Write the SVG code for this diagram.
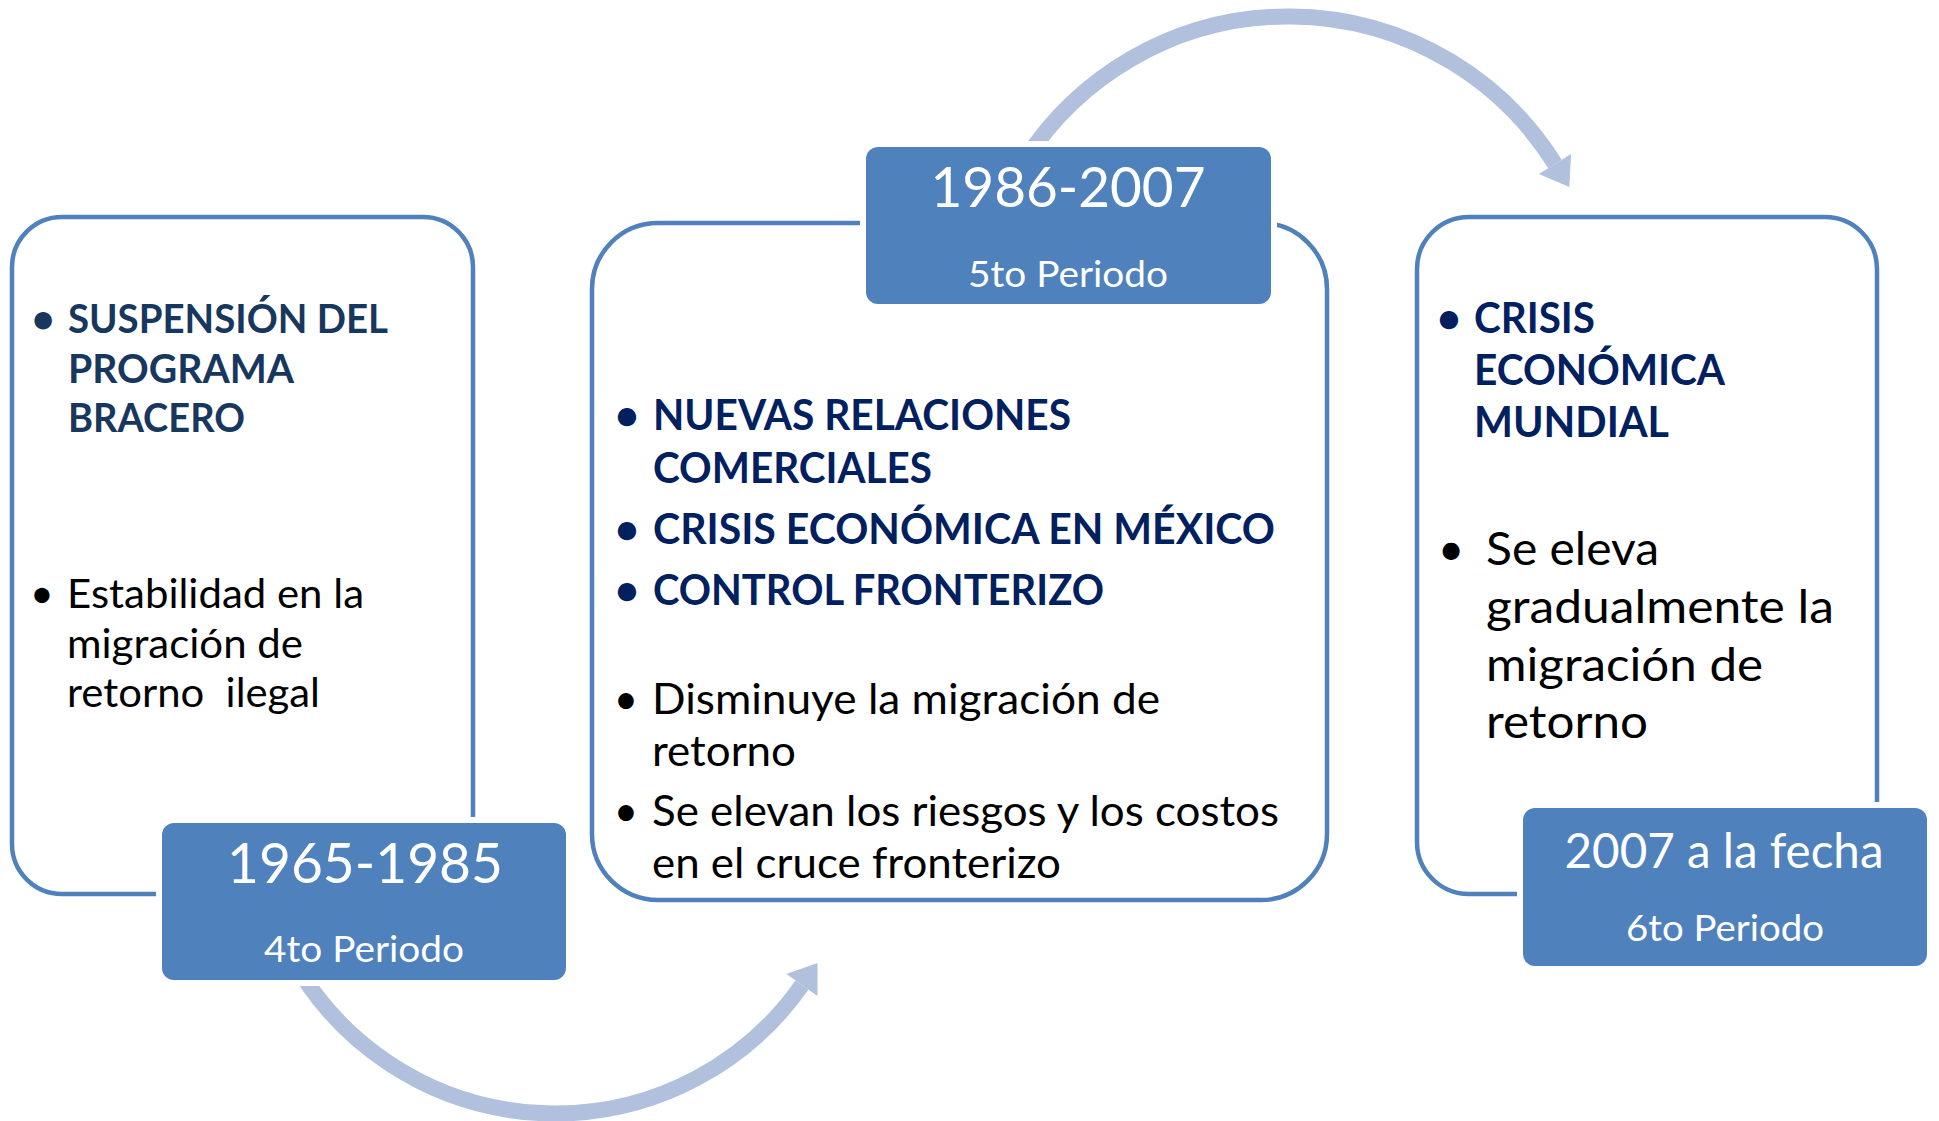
<svg xmlns="http://www.w3.org/2000/svg" width="1939" height="1121" viewBox="0 0 1939 1121">
<style>
text{font-family:Lato,"Open Sans","Liberation Sans",sans-serif;white-space:pre}
.panel{fill:#fff;stroke:#4F81BD;stroke-width:4.5}
.label{fill:#4F81BD;stroke:#fff;stroke-width:12;paint-order:stroke}
.yr{font-size:57px;fill:#fff;text-anchor:middle}
.yr3{font-size:48px;fill:#fff;text-anchor:middle}
.per{font-size:37px;fill:#fff;text-anchor:middle}
.bl{font-weight:700;font-size:40px;fill:#17375E}
.bm{font-weight:700;font-size:42px;fill:#002060}
.rl{font-size:41px;fill:#000}
.rm{font-size:42px;fill:#000}
.rr{font-size:46px;fill:#000}
.dot{text-anchor:middle}
.conn{fill:none;stroke:#B1C1DD;stroke-width:16}
</style>
<defs>
<marker id="ah" markerUnits="userSpaceOnUse" markerWidth="30" markerHeight="40" viewBox="0 -20 28 40" refX="0" refY="0" orient="auto" overflow="visible">
<path d="M0,-19 L27,0 L0,19 Z" fill="#B1C1DD"/>
</marker>
</defs>
<g id="connectors">
<path class="conn" d="M 293 960 A 301 301 0 0 0 802 985" marker-end="url(#ah)"/>
<path class="conn" d="M 1025 160 A 314 314 0 0 1 1555 164" marker-end="url(#ah)"/>
</g>
<g id="node-1965-1985">
<rect class="panel" x="12" y="217" width="461" height="677" rx="50" ry="50"/>
<text class="bl dot" x="43" y="333">•</text>
<text class="bl" x="68" y="333" textLength="320" lengthAdjust="spacingAndGlyphs">SUSPENSIÓN DEL</text>
<text class="bl" x="68" y="383" textLength="226" lengthAdjust="spacingAndGlyphs">PROGRAMA</text>
<text class="bl" x="68" y="432" textLength="177" lengthAdjust="spacingAndGlyphs">BRACERO</text>
<text class="rl dot" x="42" y="608">•</text>
<text class="rl" x="67" y="608" textLength="297" lengthAdjust="spacingAndGlyphs">Estabilidad en la</text>
<text class="rl" x="67" y="658" textLength="236" lengthAdjust="spacingAndGlyphs">migración de</text>
<text class="rl" x="67" y="707" textLength="253" lengthAdjust="spacingAndGlyphs">retorno  ilegal</text>
<rect class="label" x="162" y="823" width="404" height="157" rx="12" ry="12"/>
<text class="yr" x="365" y="883" textLength="276" lengthAdjust="spacingAndGlyphs">1965-1985</text>
<text class="per" x="364" y="962" textLength="200" lengthAdjust="spacingAndGlyphs">4to Periodo</text>
</g>
<g id="node-1986-2007">
<rect class="panel" x="592" y="223" width="735" height="677" rx="66" ry="66"/>
<text class="bm dot" x="627" y="430">•</text>
<text class="bm" x="653" y="430" textLength="418" lengthAdjust="spacingAndGlyphs">NUEVAS RELACIONES</text>
<text class="bm" x="653" y="483" textLength="279" lengthAdjust="spacingAndGlyphs">COMERCIALES</text>
<text class="bm dot" x="627" y="544">•</text>
<text class="bm" x="653" y="544" textLength="622" lengthAdjust="spacingAndGlyphs">CRISIS ECONÓMICA EN MÉXICO</text>
<text class="bm dot" x="627" y="605">•</text>
<text class="bm" x="653" y="605" textLength="451" lengthAdjust="spacingAndGlyphs">CONTROL FRONTERIZO</text>
<text class="rm dot" x="626" y="714">•</text>
<text class="rm" x="652" y="714" textLength="508" lengthAdjust="spacingAndGlyphs">Disminuye la migración de</text>
<text class="rm" x="652" y="766" textLength="144" lengthAdjust="spacingAndGlyphs">retorno</text>
<text class="rm dot" x="626" y="826">•</text>
<text class="rm" x="652" y="826" textLength="627" lengthAdjust="spacingAndGlyphs">Se elevan los riesgos y los costos</text>
<text class="rm" x="652" y="878" textLength="409" lengthAdjust="spacingAndGlyphs">en el cruce fronterizo</text>
<rect class="label" x="866" y="147" width="405" height="157" rx="12" ry="12"/>
<text class="yr" x="1068" y="207" textLength="275" lengthAdjust="spacingAndGlyphs">1986-2007</text>
<text class="per" x="1068" y="287" textLength="200" lengthAdjust="spacingAndGlyphs">5to Periodo</text>
</g>
<g id="node-2007">
<rect class="panel" x="1417" y="217" width="460" height="677" rx="52" ry="52"/>
<text class="bm dot" x="1449" y="333">•</text>
<text class="bm" x="1474" y="333" textLength="121" lengthAdjust="spacingAndGlyphs">CRISIS</text>
<text class="bm" x="1474" y="385" textLength="251" lengthAdjust="spacingAndGlyphs">ECONÓMICA</text>
<text class="bm" x="1474" y="437" textLength="195" lengthAdjust="spacingAndGlyphs">MUNDIAL</text>
<text class="rr dot" x="1451" y="565">•</text>
<text class="rr" x="1486" y="565" textLength="173" lengthAdjust="spacingAndGlyphs">Se eleva</text>
<text class="rr" x="1486" y="623" textLength="348" lengthAdjust="spacingAndGlyphs">gradualmente la</text>
<text class="rr" x="1486" y="681" textLength="277" lengthAdjust="spacingAndGlyphs">migración de</text>
<text class="rr" x="1486" y="738" textLength="162" lengthAdjust="spacingAndGlyphs">retorno</text>
<rect class="label" x="1523" y="808" width="404" height="158" rx="12" ry="12"/>
<text class="yr3" x="1724" y="868" textLength="319" lengthAdjust="spacingAndGlyphs">2007 a la fecha</text>
<text class="per" x="1725" y="941" textLength="198" lengthAdjust="spacingAndGlyphs">6to Periodo</text>
</g>
</svg>
